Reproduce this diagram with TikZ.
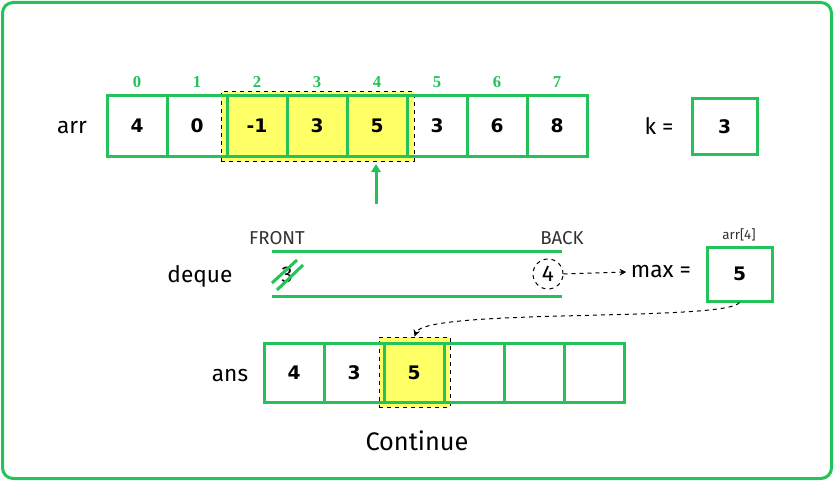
\documentclass[tikz,border=0pt]{standalone}
\usepackage{fontspec}
\setmainfont{Fira Sans}
\newfontfamily\numfont{DejaVu Sans}
\newfontfamily\idxfont{Liberation Serif}
\usetikzlibrary{arrows.meta}
\definecolor{gg}{RGB}{36,195,90}
\definecolor{hl}{RGB}{255,255,102}
\definecolor{tx}{RGB}{50,50,50}
\begin{document}
\begin{tikzpicture}[x=0.75pt,y=-0.75pt,
 cell/.style={draw=gg,line width=2.25pt,minimum width=45pt,minimum height=45pt,inner sep=0pt,font=\numfont\bfseries\fontsize{14}{16}\selectfont},
 idx/.style={text=gg,font=\idxfont\bfseries\fontsize{12.5}{14}\selectfont},
 lbl/.style={font=\fontsize{17}{20}\selectfont,text=black},
 small/.style={font=\fontsize{14}{16}\selectfont,text=tx},
 hlbox/.style={draw=black,dashed,line width=0.75pt,fill=hl,inner sep=0pt},
 grline/.style={draw=gg,line width=2.25pt}]
\useasboundingbox (0,0) rectangle (834,481);
\fill[white] (0,0) rectangle (834,481);
\draw[gg,line width=2.25pt,rounded corners=8pt] (2.5,2.5) rectangle (831.5,478.5);
% arr
\node[hlbox,minimum width=144.75pt,minimum height=51.75pt] (hla) at (317.5,126.5) {};
\foreach \v [count=\j from 0] in {4,0,-1,3,5,3,6,8}{
  \node[cell] (a\j) at ({137+60*\j},126) {\v};
  \node[idx] (i\j) at ({137+60*\j},82) {\j};
}
\node[lbl] (arrl) at (72,128) {arr};
\node[lbl] (kl) at (659,126) {k =};
\node[cell,minimum width=48.75pt,minimum height=41.25pt] (kb) at (724.5,126.5) {3};
\coordinate (up0) at (376,204);
\coordinate (up1) at (376,164);
\draw[gg,line width=2.25pt,-{Triangle[width=7pt,length=6pt]}] (up0) -- (up1);
% deque
\node[small] (front) at (277,238) {FRONT};
\node[small] (back) at (562,238) {BACK};
\coordinate (t0) at (272,251); \coordinate (t1) at (562,251);
\coordinate (b0) at (272,296); \coordinate (b1) at (562,296);
\draw[grline] (t0) -- (t1);
\draw[grline] (b0) -- (b1);
\node[lbl] (dq) at (200,276) {deque};
\node[font=\fontsize{17}{20}\selectfont] (three) at (287,275) {3};
\coordinate (s1a) at (272,283); \coordinate (s1b) at (297,260);
\coordinate (s2a) at (277,290); \coordinate (s2b) at (303,265);
\draw[gg,line width=2.25pt] (s1a) -- (s1b);
\draw[gg,line width=2.25pt] (s2a) -- (s2b);
\node[circle,draw=black,dashed,line width=0.75pt,minimum size=22.5pt,inner sep=0pt,font=\fontsize{17}{20}\selectfont] (four) at (548,274) {4};
\node[lbl] (maxl) at (661,272) {max =};
\node[cell,minimum width=48.75pt,minimum height=40.5pt] (mb) at (739.5,274) {5};
\node[font=\fontsize{10}{11}\selectfont,text=tx] (arr4) at (739,235) {arr[4]};
\draw[dashed,line width=0.75pt,-{Stealth[width=5pt,length=5pt]}] (four.east) -- (maxl.west);
% ans
\node[hlbox,minimum width=53.25pt,minimum height=52.5pt] (hlb) at (414.5,372) {};
\foreach \v [count=\j from 0] in {4,3,5,{},{},{}}{
  \node[cell,minimum height=44.25pt] (b\j) at ({294+60*\j},372.5) {\v};
}
\node[lbl] (ansl) at (230,376) {ans};
\draw[dashed,line width=0.75pt,-{Stealth[width=5pt,length=5pt]}] (mb.south) .. controls (725,322) and (425,308) .. (hlb.north);
\node[font=\fontsize{19}{22}\selectfont] (cont) at (417,441) {Continue};
\end{tikzpicture}
\end{document}
